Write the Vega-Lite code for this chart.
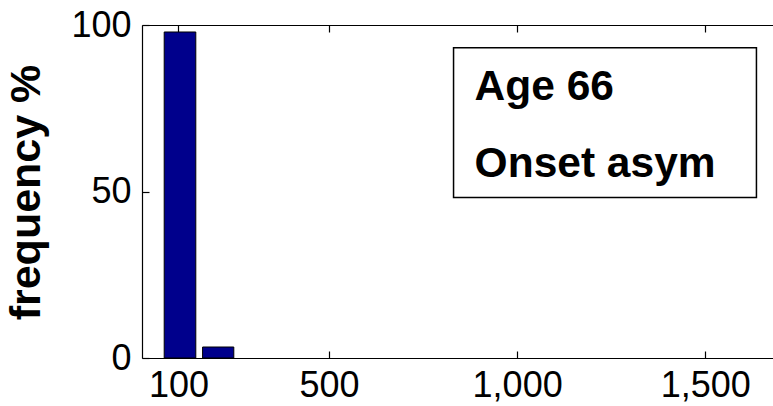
{
  "$schema": "https://vega.github.io/schema/vega-lite/v6.json",
  "width": 631,
  "height": 333,
  "autosize": {"type": "none"},
  "padding": {"left": 142, "top": 25, "right": 0, "bottom": 48},
  "background": "white",
  "config": {
    "view": {"stroke": null},
    "font": "Liberation Sans",
    "axis": {
      "domainColor": "black",
      "domainWidth": 1.2,
      "tickColor": "black",
      "tickWidth": 1.2,
      "grid": false,
      "labelColor": "black",
      "labelFont": "Liberation Sans",
      "titleFont": "Liberation Sans",
      "titleColor": "black"
    }
  },
  "datasets": {
    "bins": [
      {"bin_start": 62, "bin_end": 146, "frequency": 97.9},
      {"bin_start": 164, "bin_end": 247, "frequency": 3.3}
    ],
    "note": [
      {"line1": "Age 66", "line2": "Onset asym"}
    ]
  },
  "resolve": {"axis": {"x": "independent", "y": "independent"}},
  "layer": [
    {
      "data": {"name": "bins"},
      "mark": {"type": "rect", "fill": "#00008c", "stroke": "black", "strokeWidth": 1},
      "encoding": {
        "x": {
          "field": "bin_start",
          "type": "quantitative",
          "scale": {"domain": [3, 1680], "nice": false, "zero": false},
          "axis": {
            "orient": "bottom",
            "values": [100, 500, 1000, 1500],
            "format": ",.0f",
            "tickSize": -7,
            "labelFontSize": 36,
            "labelPadding": 17,
            "labelBaseline": "top",
            "title": null
          }
        },
        "x2": {"field": "bin_end"},
        "y": {
          "field": "frequency",
          "type": "quantitative",
          "scale": {"domain": [0, 100], "nice": false},
          "axis": {
            "orient": "left",
            "values": [0, 50, 100],
            "tickSize": -7,
            "labelFontSize": 36,
            "labelPadding": 18,
            "labelBaseline": "middle",
            "title": "frequency %",
            "titleFontSize": 43,
            "titleFontWeight": "bold",
            "titleAngle": 270,
            "titleAlign": "center",
            "titleBaseline": "alphabetic",
            "titleX": -103,
            "titleY": 167
          }
        },
        "y2": {"datum": 0}
      }
    },
    {
      "data": {"name": "note"},
      "mark": {"type": "rect", "fill": "white", "stroke": "black", "strokeWidth": 1.5},
      "encoding": {
        "x": {
          "datum": 831,
          "type": "quantitative",
          "axis": {
            "orient": "top",
            "values": [100, 500, 1000, 1500],
            "labels": false,
            "tickSize": -7,
            "title": null
          }
        },
        "x2": {"datum": 1636},
        "y": {"datum": 48.2, "type": "quantitative", "axis": null},
        "y2": {"datum": 93.2}
      }
    },
    {
      "data": {"name": "note"},
      "mark": {
        "type": "text",
        "align": "left",
        "baseline": "alphabetic",
        "font": "Liberation Sans",
        "fontWeight": "bold",
        "fontSize": 42.5,
        "color": "black"
      },
      "encoding": {
        "text": {"field": "line1"},
        "x": {"datum": 887, "type": "quantitative", "axis": null},
        "y": {"datum": 77.6, "type": "quantitative", "axis": null}
      }
    },
    {
      "data": {"name": "note"},
      "mark": {
        "type": "text",
        "align": "left",
        "baseline": "alphabetic",
        "font": "Liberation Sans",
        "fontWeight": "bold",
        "fontSize": 42.5,
        "color": "black"
      },
      "encoding": {
        "text": {"field": "line2"},
        "x": {"datum": 887, "type": "quantitative", "axis": null},
        "y": {"datum": 54.5, "type": "quantitative", "axis": null}
      }
    }
  ]
}
